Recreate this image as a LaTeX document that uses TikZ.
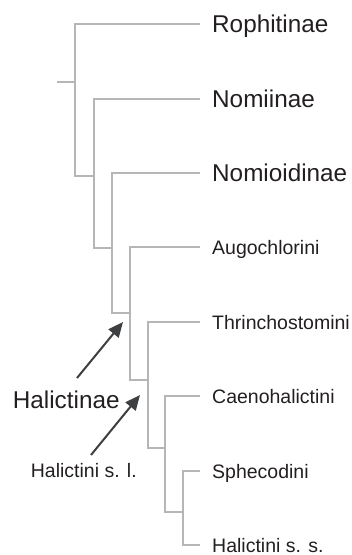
\documentclass[tikz,border=0pt]{standalone}
\usepackage{fontspec}
\setmainfont{Liberation Sans}
\usetikzlibrary{arrows.meta}
\definecolor{branchgray}{HTML}{B5B6B8}
\definecolor{arrowgray}{HTML}{3E3F41}
\definecolor{textblack}{HTML}{231F20}
\tikzset{
  br/.style={draw=branchgray, line width=2pt, line join=miter},
  arr/.style={draw=arrowgray, line width=2pt, -{Triangle[length=15pt,width=13pt]}, shorten >=0pt},
  biglab/.style={anchor=base west, inner sep=0pt, text=textblack, font=\fontsize{24.3}{29}\selectfont},
  smalllab/.style={anchor=base west, inner sep=0pt, text=textblack, font=\fontsize{19.5}{23}\selectfont},
}
\begin{document}
\begin{tikzpicture}[x=1pt,y=-1pt]
\useasboundingbox (0,0) rectangle (352,555);
% tips
\coordinate (t1) at (200,24);
\coordinate (t2) at (200,99);
\coordinate (t3) at (200,173);
\coordinate (t4) at (200,247);
\coordinate (t5) at (200,322);
\coordinate (t6) at (200,396);
\coordinate (t7) at (200,471);
\coordinate (t8) at (200,545);
% internal nodes (bottom corners) and attachment points
\coordinate (root) at (57,82);
\coordinate (r1) at (75,82);
\coordinate (b1) at (75,176);
\coordinate (a2) at (94,176);
\coordinate (b2) at (94,248);
\coordinate (a3) at (112,248);
\coordinate (b3) at (112,313);
\coordinate (a4) at (130,313);
\coordinate (b4) at (130,380);
\coordinate (a5) at (148,380);
\coordinate (b5) at (148,448);
\coordinate (a6) at (165,448);
\coordinate (b6) at (165,512);
\coordinate (a7) at (183,512);
\coordinate (b7) at (183,545);
% branches
\draw[br] (root) -- (r1);
\draw[br] (t1) -| (b1) -- (a2);
\draw[br] (t2) -| (b2) -- (a3);
\draw[br] (t3) -| (b3) -- (a4);
\draw[br] (t4) -| (b4) -- (a5);
\draw[br] (t5) -| (b5) -- (a6);
\draw[br] (t6) -| (b6) -- (a7);
\draw[br] (t7) -| (b7) -- (t8);
% labels
\node[biglab] (L1) at (212,32.7) {Rophitinae};
\node[biglab] (L2) at (212,107.7) {Nomiinae};
\node[biglab] (L3) at (212,181.7) {Nomioidinae};
\node[smalllab] (L4) at (212,254) {Augochlorini};
\node[smalllab] (L5) at (212,329) {Thrinchostomini};
\node[smalllab] (L6) at (212,403) {Caenohalictini};
\node[smalllab] (L7) at (212,478) {Sphecodini};
\node[smalllab] (L8) at (212,552) {Halictini s. s.};
\node[biglab] (H1) at (12.7,408) {Halictinae};
\node[smalllab] (H2) at (30.7,477) {Halictini s. l.};
% arrows
\coordinate (h1tail) at (77,378);
\coordinate (h1tip) at (123,322);
\coordinate (h2tail) at (91,455);
\coordinate (h2tip) at (140,395);
\draw[arr] (h1tail) -- (h1tip);
\draw[arr] (h2tail) -- (h2tip);
\end{tikzpicture}
\end{document}
